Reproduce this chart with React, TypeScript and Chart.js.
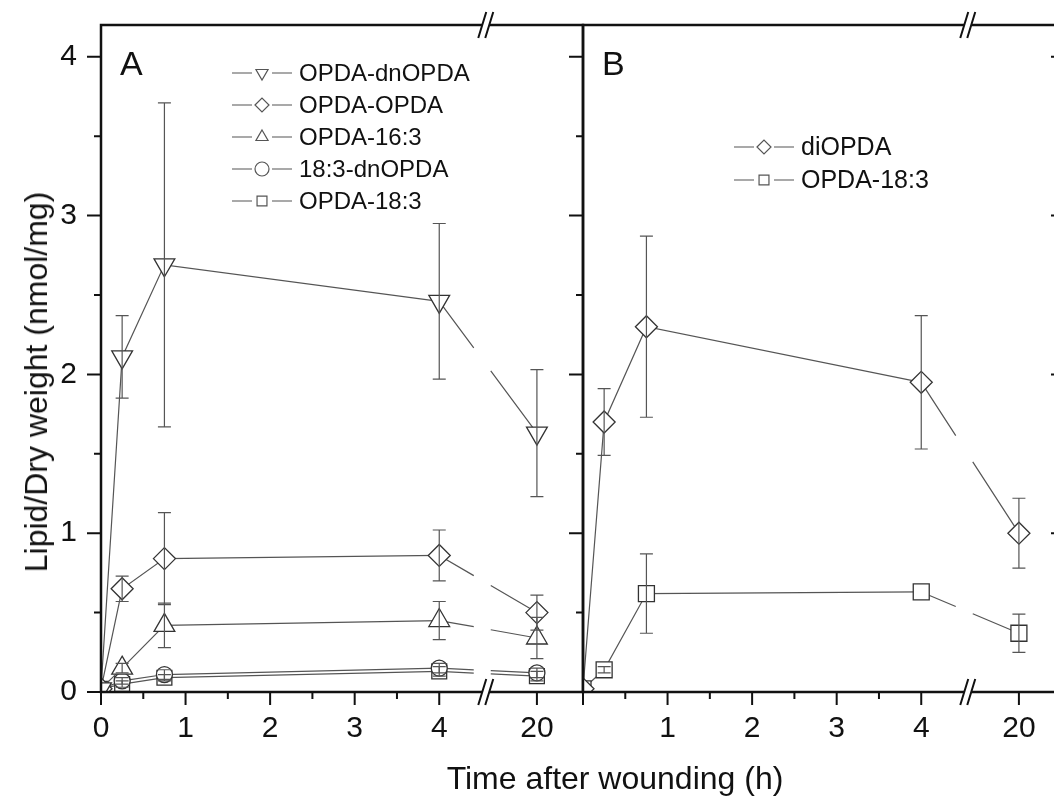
import React, { useEffect, useRef } from "react";
import { Chart, registerables } from "chart.js";

Chart.register(...registerables);

// ---------------- data ----------------
const times = [0, 0.25, 0.75, 4, 20];
const xTickTimes = [0, 1, 2, 3, 4, 20];
const xTickLabelsA = ["0", "1", "2", "3", "4", "20"];
const xTickLabelsB = ["", "1", "2", "3", "4", "20"];
const xMinorTimes = [0.5, 1.5, 2.5, 3.5];
const yTickValues = [0, 1, 2, 3, 4];
const yTickLabels = ["0", "1", "2", "3", "4"];
const yMinorValues = [0.5, 1.5, 2.5, 3.5];

// Panel A
const aOpdaDnOpda = [0.02, 2.11, 2.69, 2.46, 1.63];
const aOpdaDnOpdaSd = [0, 0.26, 1.02, 0.49, 0.4];
const aOpdaOpda = [0.02, 0.65, 0.84, 0.86, 0.5];
const aOpdaOpdaSd = [0, 0.08, 0.29, 0.16, 0.11];
const aOpda163 = [0.02, 0.15, 0.42, 0.45, 0.34];
const aOpda163Sd = [0, 0.03, 0.14, 0.12, 0.13];
const a183DnOpda = [0.02, 0.07, 0.11, 0.15, 0.12];
const a183DnOpdaSd = [0, 0.02, 0.03, 0.03, 0.03];
const aOpda183 = [0.02, 0.05, 0.09, 0.13, 0.1];
const aOpda183Sd = [0, 0.02, 0.02, 0.03, 0.03];

// Panel B
const bDiOpda = [0.02, 1.7, 2.3, 1.95, 1.0];
const bDiOpdaSd = [0, 0.21, 0.57, 0.42, 0.22];
const bOpda183 = [0.02, 0.14, 0.62, 0.63, 0.37];
const bOpda183Sd = [0, 0.02, 0.25, 0, 0.12];

const seriesNamesA = ["OPDA-dnOPDA", "OPDA-OPDA", "OPDA-16:3", "18:3-dnOPDA", "OPDA-18:3"];
const seriesNamesB = ["diOPDA", "OPDA-18:3"];

// ---------------- axis break mapping ----------------
const BREAK_POS = 4.55;
const POS_20 = 5.155;
const X_MAX = 5.7;
const Y_MAX = 4.2;
const tPos = (t: number) => (t <= 4 ? t : 4 + ((t - 4) / 16) * (POS_20 - 4));

const FONT = "'Liberation Sans', Arial, Helvetica, sans-serif";
const LINE_COLOR = "#555";
const MARK_COLOR = "#333";
const AXIS_COLOR = "#111";

type MarkerStyle = "triangleDown" | "triangle" | "rectRot" | "circle" | "rect";

interface Series {
  name: string;
  values: number[];
  sd: number[];
  style: MarkerStyle;
  radius: number;
}

function drawMarker(ctx: CanvasRenderingContext2D, style: MarkerStyle, x: number, y: number, r: number) {
  ctx.beginPath();
  if (style === "triangleDown") {
    ctx.moveTo(x - r * 0.866, y - r * 0.5);
    ctx.lineTo(x + r * 0.866, y - r * 0.5);
    ctx.lineTo(x, y + r);
    ctx.closePath();
  } else if (style === "triangle") {
    ctx.moveTo(x, y - r);
    ctx.lineTo(x + r * 0.866, y + r * 0.5);
    ctx.lineTo(x - r * 0.866, y + r * 0.5);
    ctx.closePath();
  } else if (style === "rectRot") {
    ctx.moveTo(x - r, y);
    ctx.lineTo(x, y - r);
    ctx.lineTo(x + r, y);
    ctx.lineTo(x, y + r);
    ctx.closePath();
  } else if (style === "circle") {
    ctx.arc(x, y, r, 0, Math.PI * 2);
  } else {
    const s = r * 0.707;
    ctx.rect(x - s, y - s, 2 * s, 2 * s);
  }
  ctx.fillStyle = "#fff";
  ctx.fill();
  ctx.stroke();
}

function pointStyleOf(s: MarkerStyle): any {
  if (s === "triangleDown") return "triangle";
  return s;
}

interface PanelOpts {
  series: Series[];
  xLabels: string[];
  showY: boolean;
  panel: string;
  legendX: number;
  legendY: number;
  legendStep: number;
  legendFont: number;
  padding: { left: number; right: number; top: number };
  yWidth: number;
  rightTicks: boolean;
}

function buildChart(canvas: HTMLCanvasElement, o: PanelOpts) {
  const datasets = o.series.map((s) => ({
    label: s.name,
    data: times.map((t, i) => ({ x: tPos(t), y: s.values[i] })),
    borderColor: LINE_COLOR,
    borderWidth: 1.2,
    pointStyle: pointStyleOf(s.style),
    rotation: s.style === "triangleDown" ? 180 : 0,
    pointRotation: s.style === "triangleDown" ? 180 : 0,
    pointRadius: s.radius,
    pointBorderColor: MARK_COLOR,
    pointBorderWidth: 1.3,
    pointBackgroundColor: "#fff",
    tension: 0,
    fill: false,
    segment: {
      borderDash: (ctx: any) => {
        const sx = ctx.chart.scales.x;
        const bp = sx.getPixelForValue(BREAK_POS);
        const p0 = ctx.p0, p1 = ctx.p1;
        if (p0.x < bp && p1.x > bp) {
          const dx = p1.x - p0.x;
          const dy = p1.y - p0.y;
          const L = Math.hypot(dx, dy);
          const k = L / dx;
          const start = Math.max(0, (bp - 12 - p0.x) * k);
          return [start, 17 * k, L];
        }
        return undefined;
      },
    },
  }));

  const framePlugin = {
    id: "frame" + o.panel,
    afterDatasetsDraw(chart: any) {
      const ctx: CanvasRenderingContext2D = chart.ctx;
      const xs = chart.scales.x;
      const ys = chart.scales.y;
      ctx.save();
      ctx.strokeStyle = LINE_COLOR;
      ctx.lineWidth = 1.2;
      o.series.forEach((s) => {
        times.forEach((t, i) => {
          const sd = s.sd[i];
          if (!sd) return;
          const x = xs.getPixelForValue(tPos(t));
          const yHi = ys.getPixelForValue(s.values[i] + sd);
          const yLo = ys.getPixelForValue(Math.max(0, s.values[i] - sd));
          ctx.beginPath();
          ctx.moveTo(x, yHi);
          ctx.lineTo(x, yLo);
          ctx.moveTo(x - 6.5, yHi);
          ctx.lineTo(x + 6.5, yHi);
          ctx.moveTo(x - 6.5, yLo);
          ctx.lineTo(x + 6.5, yLo);
          ctx.stroke();
        });
      });
      ctx.restore();
    },
    afterDraw(chart: any) {
      const ctx: CanvasRenderingContext2D = chart.ctx;
      const { left, right, top, bottom } = chart.chartArea;
      const xs = chart.scales.x;
      const ys = chart.scales.y;
      ctx.save();
      // frame
      ctx.strokeStyle = AXIS_COLOR;
      ctx.lineWidth = 2.5;
      ctx.lineCap = "square";
      ctx.beginPath();
      ctx.moveTo(left, top);
      ctx.lineTo(right, top);
      ctx.lineTo(right, bottom);
      ctx.lineTo(left, bottom);
      ctx.closePath();
      ctx.stroke();
      ctx.lineCap = "butt";
      // ticks
      ctx.lineWidth = 2;
      ctx.beginPath();
      yTickValues.forEach((v) => {
        const y = ys.getPixelForValue(v);
        ctx.moveTo(left - 14, y);
        ctx.lineTo(left, y);
        if (o.rightTicks) {
          ctx.moveTo(right - 14, y);
          ctx.lineTo(right, y);
        }
      });
      yMinorValues.forEach((v) => {
        const y = ys.getPixelForValue(v);
        ctx.moveTo(left - 7, y);
        ctx.lineTo(left, y);
        if (o.rightTicks) {
          ctx.moveTo(right - 7, y);
          ctx.lineTo(right, y);
        }
      });
      xTickTimes.forEach((t) => {
        const x = xs.getPixelForValue(tPos(t));
        ctx.moveTo(x, bottom);
        ctx.lineTo(x, bottom + 13);
      });
      xMinorTimes.forEach((t) => {
        const x = xs.getPixelForValue(tPos(t));
        ctx.moveTo(x, bottom);
        ctx.lineTo(x, bottom + 7);
      });
      ctx.stroke();
      // axis breaks
      const bx = xs.getPixelForValue(BREAK_POS);
      [top, bottom].forEach((yy) => {
        ctx.fillStyle = "#fff";
        ctx.fillRect(bx - 3.5, yy - 2, 7, 4);
        ctx.beginPath();
        [bx - 3.5, bx + 3.5].forEach((c) => {
          ctx.moveTo(c - 4, yy + 13);
          ctx.lineTo(c + 4, yy - 13);
        });
        ctx.stroke();
      });
      // panel label
      ctx.fillStyle = AXIS_COLOR;
      ctx.font = `34px ${FONT}`;
      ctx.textBaseline = "alphabetic";
      ctx.textAlign = "left";
      ctx.fillText(o.panel, left + 19, 75);
      // legend
      ctx.font = `${o.legendFont}px ${FONT}`;
      ctx.textBaseline = "middle";
      o.series.forEach((s, i) => {
        const y = o.legendY + i * o.legendStep;
        const x0 = o.legendX;
        ctx.strokeStyle = LINE_COLOR;
        ctx.lineWidth = 1.2;
        ctx.beginPath();
        ctx.moveTo(x0, y);
        ctx.lineTo(x0 + 20, y);
        ctx.moveTo(x0 + 40, y);
        ctx.lineTo(x0 + 60, y);
        ctx.stroke();
        ctx.strokeStyle = LINE_COLOR;
        ctx.lineWidth = 1.2;
        drawMarker(ctx, s.style, x0 + 30, y, 7);
        ctx.fillStyle = AXIS_COLOR;
        ctx.fillText(s.name, x0 + 67, y + 1);
      });
      ctx.restore();
    },
  };

  const zeroPad = (s: any) => {
    s.paddingTop = 0;
    s.paddingBottom = 0;
    s.paddingLeft = 0;
    s.paddingRight = 0;
  };

  return new Chart(canvas, {
    type: "line",
    data: { datasets: datasets as any },
    options: {
      responsive: false,
      animation: false,
      events: [],
      layout: { padding: { left: o.padding.left, right: o.padding.right, top: o.padding.top, bottom: 0 } },
      plugins: { legend: { display: false }, tooltip: { enabled: false }, title: { display: false } },
      scales: {
        x: {
          type: "linear",
          min: 0,
          max: X_MAX,
          grid: { display: false, drawTicks: false, tickLength: 0 },
          border: { display: false },
          afterFit: (s: any) => {
            s.height = 107;
            zeroPad(s);
          },
          afterBuildTicks: (s: any) => {
            s.ticks = xTickTimes.map((t) => ({ value: tPos(t) }));
          },
          ticks: {
            autoSkip: false,
            maxRotation: 0,
            minRotation: 0,
            padding: 19,
            color: AXIS_COLOR,
            font: { size: 30, family: FONT },
            callback: (_v: any, i: number) => o.xLabels[i],
          },
        },
        y: {
          type: "linear",
          display: o.showY,
          min: 0,
          max: Y_MAX,
          grid: { display: false, drawTicks: false, tickLength: 0 },
          border: { display: false },
          afterFit: (s: any) => {
            s.width = o.yWidth;
            zeroPad(s);
          },
          afterBuildTicks: (s: any) => {
            s.ticks = yTickValues.map((v) => ({ value: v }));
          },
          ticks: {
            padding: 24,
            color: AXIS_COLOR,
            font: { size: 30, family: FONT },
            callback: (_v: any, i: number) => yTickLabels[i],
          },
        },
      },
    } as any,
    plugins: [framePlugin],
  });
}

const seriesA: Series[] = [
  { name: seriesNamesA[0], values: aOpdaDnOpda, sd: aOpdaDnOpdaSd, style: "triangleDown", radius: 12 },
  { name: seriesNamesA[1], values: aOpdaOpda, sd: aOpdaOpdaSd, style: "rectRot", radius: 11 },
  { name: seriesNamesA[2], values: aOpda163, sd: aOpda163Sd, style: "triangle", radius: 12 },
  { name: seriesNamesA[3], values: a183DnOpda, sd: a183DnOpdaSd, style: "circle", radius: 8 },
  { name: seriesNamesA[4], values: aOpda183, sd: aOpda183Sd, style: "rect", radius: 10.5 },
];

const seriesB: Series[] = [
  { name: seriesNamesB[0], values: bDiOpda, sd: bDiOpdaSd, style: "rectRot", radius: 11 },
  { name: seriesNamesB[1], values: bOpda183, sd: bOpda183Sd, style: "rect", radius: 11.3 },
];

export default function App() {
  const refA = useRef<HTMLCanvasElement>(null);
  const refB = useRef<HTMLCanvasElement>(null);

  useEffect(() => {
    const chartA = buildChart(refA.current!, {
      series: seriesA,
      xLabels: xTickLabelsA,
      showY: true,
      panel: "A",
      legendX: 232,
      legendY: 73,
      legendStep: 32,
      legendFont: 24,
      padding: { left: 0, right: 17, top: 25 },
      yWidth: 101,
      rightTicks: false,
    });
    const chartB = buildChart(refB.current!, {
      series: seriesB,
      xLabels: xTickLabelsB,
      showY: false,
      panel: "B",
      legendX: 734 - 560,
      legendY: 147,
      legendStep: 33,
      legendFont: 25,
      padding: { left: 23, right: 15, top: 25 },
      yWidth: 0,
      rightTicks: true,
    });
    return () => {
      chartA.destroy();
      chartB.destroy();
    };
  }, []);

  return (
    <div
      style={{
        position: "fixed",
        left: 0,
        top: 0,
        width: 1054,
        height: 799,
        overflow: "hidden",
        background: "#fff",
        fontFamily: FONT,
        color: AXIS_COLOR,
      }}
    >
      <canvas ref={refA} width={600} height={799} style={{ position: "absolute", left: 0, top: 0, width: 600, height: 799 }} />
      <canvas ref={refB} width={520} height={799} style={{ position: "absolute", left: 560, top: 0, width: 520, height: 799 }} />
      <div
        style={{
          position: "absolute",
          left: 36,
          top: 382,
          transform: "translate(-50%, -50%) rotate(-90deg)",
          whiteSpace: "nowrap",
          fontSize: 32,
          lineHeight: 1,
        }}
      >
        Lipid/Dry weight (nmol/mg)
      </div>
      <div
        style={{
          position: "absolute",
          left: 615,
          top: 778,
          transform: "translate(-50%, -50%)",
          whiteSpace: "nowrap",
          fontSize: 32,
          lineHeight: 1,
        }}
      >
        Time after wounding (h)
      </div>
    </div>
  );
}
